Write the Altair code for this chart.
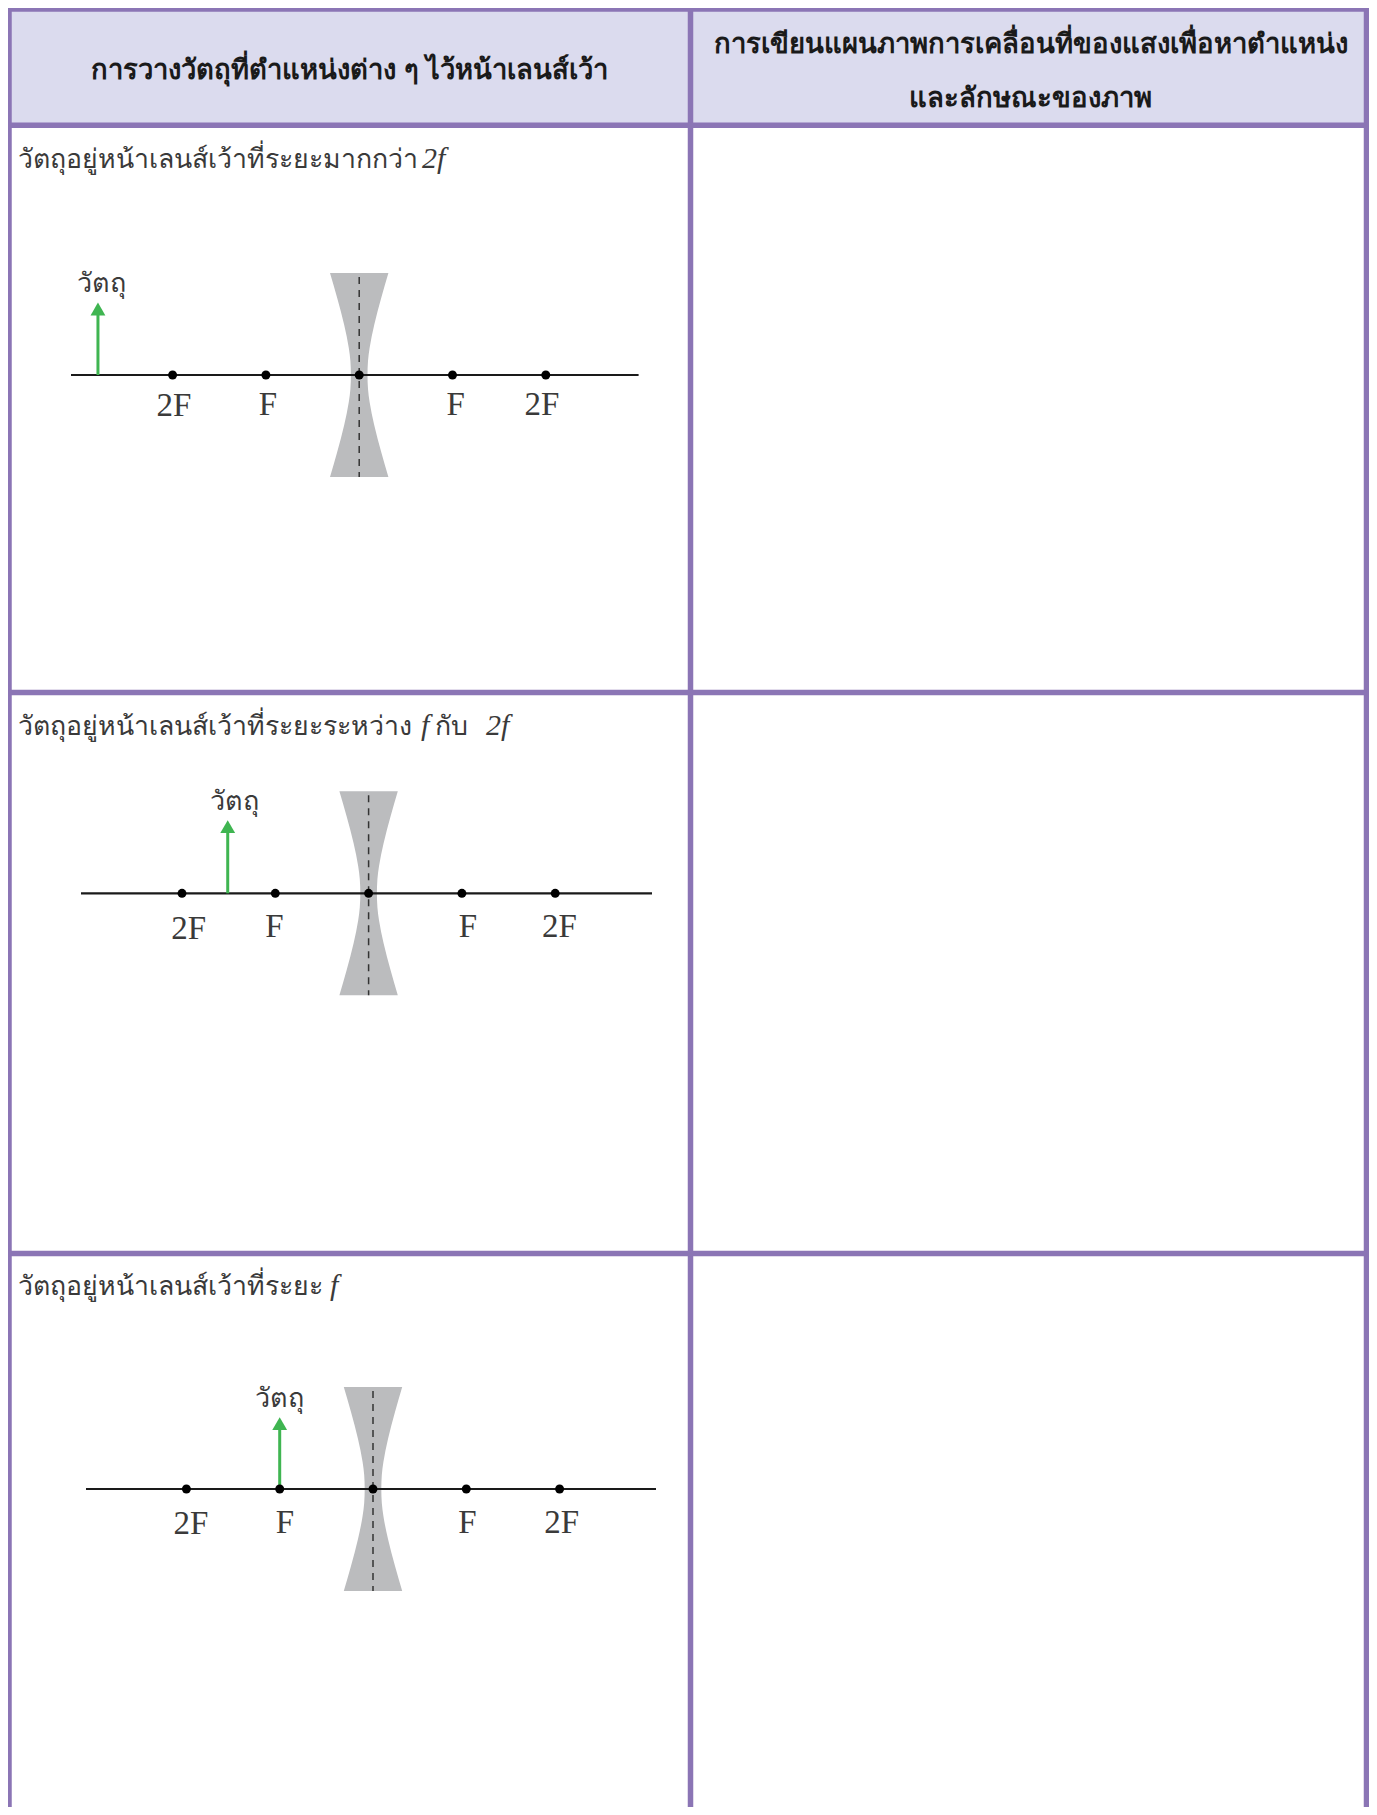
import altair as alt
import pandas as pd

# ---- table structure (page pixels) ----
col_edges = [9, 690.5, 1366.5]
row_edges = [9, 125.3, 692.5, 1253.5, 1815]
BORDER = "#8B75B5"
HEADER = "#DBDBEE"

# ---- text ----
header_left = "การวางวัตถุที่ตำแหน่งต่าง ๆ ไว้หน้าเลนส์เว้า"
header_right = ["การเขียนแผนภาพการเคลื่อนที่ของแสงเพื่อหาตำแหน่ง", "และลักษณะของภาพ"]
row_text = [
    "วัตถุอยู่หน้าเลนส์เว้าที่ระยะมากกว่า",
    "วัตถุอยู่หน้าเลนส์เว้าที่ระยะระหว่าง",
    "วัตถุอยู่หน้าเลนส์เว้าที่ระยะ",
]
row_baseline = [168, 735, 1295]
object_word = "วัตถุ"
math_text = ["2f", "f", "2f", "f"]
math_x = [422, 421, 486, 330]
math_base = [168, 735, 735, 1295]
join_text = ["กับ"]
join_x = [435]
join_base = [735]

# ---- optical diagrams ----
lens_x = [359.2, 368.6, 373.0]
axis_y = [375.0, 893.3, 1489.0]
axis_left = [71, 81, 86]
axis_right = [638.6, 652, 656]
focal_px = 93.3
dot_units = [-2, -1, 0, 1, 2]
object_units = [-2.8, -1.51, -1.0]
object_tip_rise = [72, 72.6, 71.3]
label_names = ["2F", "F", "F", "2F"]
label_x = [[174, 268, 455.7, 541.8], [188.6, 274.5, 468, 559.4], [191, 285, 467.5, 561.6]]
label_base = [[416, 415, 415, 415], [939, 937, 937, 937], [1534, 1533, 1533, 1533]]
word_x = [101, 234, 279.7]
word_base = [292, 810, 1407]
lens_off = [-102, -77, -50, -27, -14, 0, 14, 27, 50, 77, 102]
lens_half = [29.2, 22, 15, 10.4, 8.8, 8.3, 8.8, 10.4, 15, 22, 29.2]

W, H = 1361, 1799
X = alt.Scale(domain=[8, 8 + W], range=[0, W], nice=False, zero=False, padding=0)
Y = alt.Scale(domain=[8 + H, 8], range=[H, 0], nice=False, zero=False, padding=0)
THAI = "Noto Sans, sans-serif"
SERIF = "Liberation Serif"
INK = "#3a3a3a"

def xe(f="x"): return alt.X(f"{f}:Q", scale=X, axis=None)
def ye(f="y"): return alt.Y(f"{f}:Q", scale=Y, axis=None)

layers = []
# header fill
hdr = pd.DataFrame({"x": [col_edges[0]], "x2": [col_edges[2]], "y": [row_edges[0]], "y2": [row_edges[1]]})
layers.append(alt.Chart(hdr).mark_rect(color=HEADER).encode(x=xe(), x2="x2:Q", y=ye(), y2="y2:Q"))

# lenses
lens_rows = []
for i, (lx, ay) in enumerate(zip(lens_x, axis_y)):
    for o, h in zip(lens_off, lens_half):
        lens_rows.append({"p": i, "y": ay + o, "x": lx - h, "x2": lx + h})
layers.append(alt.Chart(pd.DataFrame(lens_rows)).mark_area(orient="horizontal", color="#BBBCBE", interpolate="monotone")
              .encode(y=ye(), x=xe(), x2="x2:Q", detail="p:N"))
# lens dashes
dash = pd.DataFrame([{"x": lx, "y": ay - 98, "y2": ay + 102} for lx, ay in zip(lens_x, axis_y)])
layers.append(alt.Chart(dash).mark_rule(color="#333333", strokeWidth=1.5, strokeDash=[7, 6]).encode(x=xe(), y=ye(), y2="y2:Q"))
# principal axes
ax = pd.DataFrame({"x": axis_left, "x2": axis_right, "y": axis_y})
layers.append(alt.Chart(ax).mark_rule(color="#1a1a1a", strokeWidth=2.2).encode(x=xe(), x2="x2:Q", y=ye()))
# object arrows
ob = pd.DataFrame({"x": [l + u * focal_px for l, u in zip(lens_x, object_units)],
                   "y": axis_y,
                   "y2": [a - r + 8 for a, r in zip(axis_y, object_tip_rise)],
                   "yh": [a - r + 6 for a, r in zip(axis_y, object_tip_rise)]})
layers.append(alt.Chart(ob).mark_rule(color="#3FB551", strokeWidth=3).encode(x=xe(), y=ye(), y2="y2:Q"))
layers.append(alt.Chart(ob).mark_point(shape="triangle-up", filled=True, opacity=1, color="#3FB551", size=220)
              .encode(x=xe(), y=ye("yh")))
# focal points
dots = pd.DataFrame([{"x": l + u * focal_px, "y": a} for l, a in zip(lens_x, axis_y) for u in dot_units])
layers.append(alt.Chart(dots).mark_circle(color="#000000", opacity=1, size=80).encode(x=xe(), y=ye()))
# focal labels
lab = pd.DataFrame([{"x": x, "y": b, "t": n} for xs, bs in zip(label_x, label_base) for x, b, n in zip(xs, bs, label_names)])
layers.append(alt.Chart(lab).mark_text(font=SERIF, fontSize=33, color=INK, baseline="alphabetic", align="center")
              .encode(x=xe(), y=ye(), text="t:N"))
# object word
wd = pd.DataFrame({"x": word_x, "y": word_base, "t": [object_word] * 3})
layers.append(alt.Chart(wd).mark_text(font=THAI, fontSize=27, color=INK, baseline="alphabetic", align="center")
              .encode(x=xe(), y=ye(), text="t:N"))
# row captions
rt = pd.DataFrame({"x": [18] * 3, "y": row_baseline, "t": row_text})
layers.append(alt.Chart(rt).mark_text(font=THAI, fontSize=26.7, color=INK, baseline="alphabetic", align="left")
              .encode(x=xe(), y=ye(), text="t:N"))
jt = pd.DataFrame({"x": join_x, "y": join_base, "t": join_text})
layers.append(alt.Chart(jt).mark_text(font=THAI, fontSize=26.7, color=INK, baseline="alphabetic", align="left")
              .encode(x=xe(), y=ye(), text="t:N"))
it = pd.DataFrame({"x": math_x, "y": math_base, "t": math_text})
layers.append(alt.Chart(it).mark_text(font=SERIF, fontSize=30, fontStyle="italic", color=INK, baseline="alphabetic", align="left")
              .encode(x=xe(), y=ye(), text="t:N"))
# headers
hd = pd.DataFrame({"x": [349.6, 1031, 1030], "y": [79, 53, 107], "t": [header_left] + header_right, "s": [27.4, 27.5, 27.5]})
layers.append(alt.Chart(hd).mark_text(font=THAI, fontWeight="bold", color="#1a1a1a", baseline="alphabetic", align="center")
              .encode(x=xe(), y=ye(), text="t:N", size=alt.Size("s:Q", scale=None, legend=None)))
# grid lines
vl = pd.DataFrame({"x": col_edges, "y": [row_edges[0] - 3] * 3, "y2": [row_edges[-1]] * 3})
hl = pd.DataFrame({"y": row_edges[:-1], "x": [col_edges[0]] * 4, "x2": [col_edges[2]] * 4})
layers.append(alt.Chart(vl).mark_rule(color=BORDER, strokeWidth=5.5).encode(x=xe(), y=ye(), y2="y2:Q"))
layers.append(alt.Chart(hl).mark_rule(color=BORDER, strokeWidth=5.5).encode(y=ye(), x=xe(), x2="x2:Q"))

chart = alt.layer(*layers).properties(
    width=W, height=H, padding=0, background="white",
    autosize=alt.AutoSizeParams(type="none"),
).configure_view(stroke=None)
chart.save("out.html", embed_options={"renderer": "svg", "actions": False})
